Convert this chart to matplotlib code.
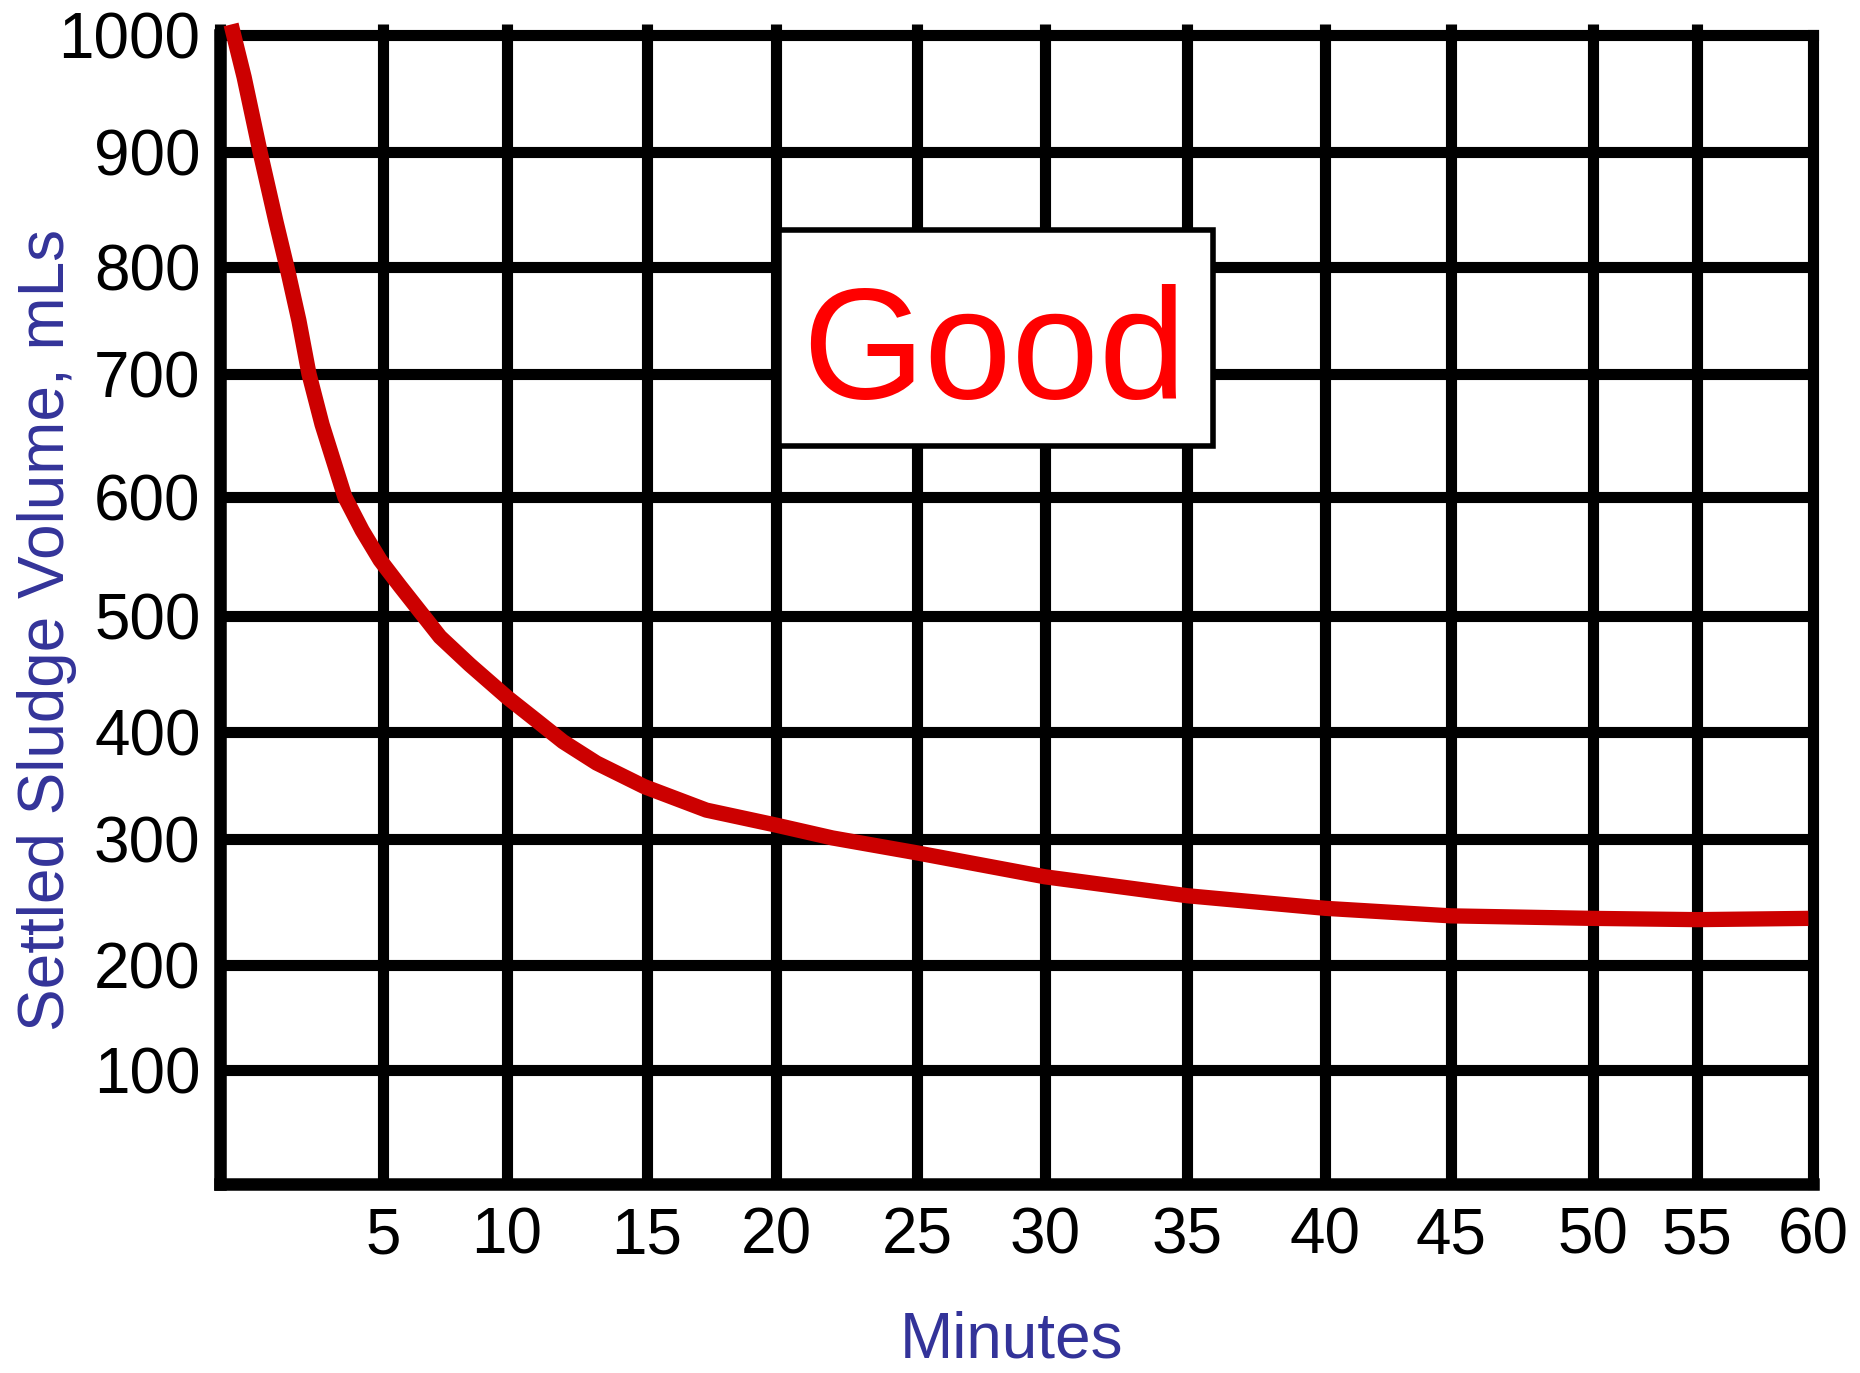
import numpy as np
import matplotlib
matplotlib.use("Agg")
import matplotlib.pyplot as plt
from matplotlib.patches import Rectangle

# Settleometer readings: settled sludge volume over a 60-minute test
minutes = [0.34, 0.74, 1.23, 1.72, 2.09, 2.42, 2.73, 3.13, 3.83, 4.36, 4.91,
           5.69, 7.3, 8.5, 10.0, 11.1, 12.0, 13.2, 14.9, 17.3, 20.0,
           22.0, 25.0, 30, 35, 40, 45, 50, 55, 59.8]
volume_ml = [1009, 964, 900, 839, 795, 750, 700, 659, 600, 572, 547,
             525, 482, 458, 430, 409, 391, 371, 349, 327, 313,
             301, 289, 270, 255, 245, 239, 237, 236, 237]

x_ticks = [5, 10, 15, 20, 25, 30, 35, 40, 45, 50, 55, 60]
y_ticks = [100, 200, 300, 400, 500, 600, 700, 800, 900, 1000]

# ---- layout of the hand-ruled sheet (pixel positions of each rule) ----
W, H, DPI = 1860, 1373, 100
X_RULES = [0, 5, 10, 15, 20, 25, 30, 35, 40, 45, 50, 55, 60]
X_RULES_PX = [220, 383, 507, 647, 776, 917, 1045, 1187, 1325, 1451, 1593, 1697, 1813]
Y_RULES = [0, 100, 200, 300, 400, 500, 600, 700, 800, 900, 1000]
Y_RULES_PX = [1184, 1070, 965, 839, 732, 616, 497, 374, 267, 152, 35]


def ruled_scale(knots, pos):
    knots = np.asarray(knots, float)
    pos = np.asarray(pos, float)

    def make(a, b):
        s0 = (b[1] - b[0]) / (a[1] - a[0])
        s1 = (b[-1] - b[-2]) / (a[-1] - a[-2])

        def f(v):
            v = np.asarray(v, float)
            out = np.interp(v, a, b)
            out = np.where(v < a[0], b[0] + (v - a[0]) * s0, out)
            out = np.where(v > a[-1], b[-1] + (v - a[-1]) * s1, out)
            return out
        return f

    return make(knots, pos), make(pos, knots)


x_fwd, x_inv = ruled_scale(X_RULES, X_RULES_PX)
y_fwd, y_inv = ruled_scale(Y_RULES, [H - p for p in Y_RULES_PX])

plt.rcParams["font.family"] = ["Liberation Sans", "DejaVu Sans"]

fig = plt.figure(figsize=(W / DPI, H / DPI), dpi=DPI)
fig.patch.set_facecolor("white")

left, right = X_RULES_PX[0], X_RULES_PX[-1]
bottom, top = Y_RULES_PX[0], Y_RULES_PX[-1]
ax = fig.add_axes([left / W, (H - bottom) / H, (right - left) / W, (bottom - top) / H])
ax.set_xscale("function", functions=(x_fwd, x_inv))
ax.set_yscale("function", functions=(y_fwd, y_inv))
ax.set_xlim(0, 60)
ax.set_ylim(0, 1000)

GRID_LW = 8
for s in ax.spines.values():
    s.set_linewidth(8)
    s.set_color("black")
    s.set_capstyle("projecting")
ax.spines["bottom"].set_linewidth(9)
ax.spines["left"].set_linewidth(9)

# ruled grid lines; verticals poke a little above the top rule
ax.vlines([0] + x_ticks[:-1], 0, 1009, colors="black", lw=GRID_LW,
          clip_on=False, zorder=1)
ax.hlines(y_ticks[:-1], 0, 60, colors="black", lw=GRID_LW, zorder=1)

ax.plot(minutes, volume_ml, color="#CC0000", lw=11, solid_joinstyle="round",
        solid_capstyle="butt", clip_on=False, zorder=3)

ax.set_xticks(x_ticks)
ax.set_xticklabels([str(t) for t in x_ticks])
ax.set_yticks(y_ticks)
ax.set_yticklabels([str(t) for t in y_ticks])
ax.tick_params(axis="both", length=0, labelsize=46, colors="black")
ax.tick_params(axis="x", pad=16)
ax.tick_params(axis="y", pad=14)
ax.minorticks_off()

label_color = "#333399"
fig.text(1011 / W, 1 - 1340 / H, "Minutes", fontsize=46, color=label_color,
         ha="center", va="center")
fig.text(47 / W, 1 - 630 / H, "Settled Sludge Volume, mLs", fontsize=46,
         color=label_color, rotation=90, ha="center", va="center")

# "Good" callout box over the grid
box_x0, box_x1, box_y0, box_y1 = 779, 1213, 230, 446
fig.patches.append(Rectangle((box_x0 / W, 1 - box_y1 / H), (box_x1 - box_x0) / W,
                             (box_y1 - box_y0) / H, transform=fig.transFigure,
                             facecolor="white", edgecolor="black", lw=4, zorder=5))
fig.text(994 / W, 1 - 398 / H, "Good", fontsize=113, color="#FF0000",
         ha="center", va="baseline", zorder=6)

fig.savefig("out.png", dpi=DPI, facecolor="white")
